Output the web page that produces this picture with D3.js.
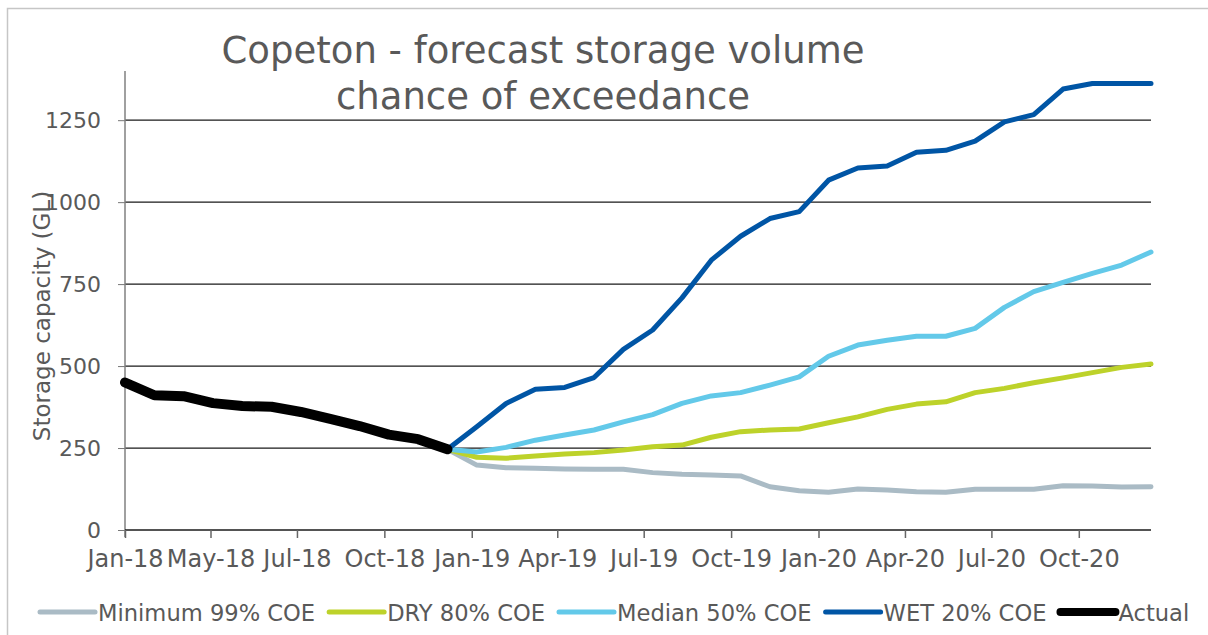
<!DOCTYPE html>
<html>
<head>
<meta charset="utf-8">
<script src="https://cdn.jsdelivr.net/npm/d3@7"></script>
<style>
    body { margin: 0; background: #fff; }
    svg { display: block; }
    text { font-family: "Century Gothic", "DejaVu Sans", sans-serif; fill: #595959; }
</style>
</head>
<body>
<div id="chart"></div>
<script>
// Copeton storage, GL. Forecasts start from the last actual reading (Dec-18).
const forecastStart = 11;
const actual = [450, 411, 408, 387, 378, 376, 360, 339, 317, 291, 277, 246];
const minimum99 = [246, 198, 190, 188, 186, 185, 185, 175, 170, 168, 165, 132, 120, 115, 125, 122, 117, 115, 124, 124, 124, 135, 134, 131, 132];
const dry80 = [246, 222, 219, 226, 232, 236, 244, 254, 259, 283, 300, 305, 308, 327, 345, 368, 384, 391, 419, 432, 449, 464, 480, 496, 506];
const median50 = [246, 238, 252, 274, 290, 305, 330, 352, 386, 409, 419, 442, 467, 530, 564, 579, 591, 591, 615, 679, 727, 755, 783, 808, 848];
const wet20 = [246, 315, 386, 429, 435, 465, 551, 610, 708, 823, 896, 950, 971, 1067, 1104, 1110, 1152, 1158, 1186, 1245, 1267, 1345, 1362, 1362, 1362];

const tickLabels = ["Jan-18", "May-18", "Jul-18", "Oct-18", "Jan-19", "Apr-19", "Jul-19", "Oct-19", "Jan-20", "Apr-20", "Jul-20", "Oct-20"];
const yTicks = [0, 250, 500, 750, 1000, 1250];

const series = [
    { name: "Minimum 99% COE", values: minimum99, offset: forecastStart, color: "#aabbc5", width: 5 },
    { name: "DRY 80% COE", values: dry80, offset: forecastStart, color: "#bdd22a", width: 5 },
    { name: "Median 50% COE", values: median50, offset: forecastStart, color: "#63c9e9", width: 5 },
    { name: "WET 20% COE", values: wet20, offset: forecastStart, color: "#0055a5", width: 5 },
    { name: "Actual", values: actual, offset: 0, color: "#000000", width: 10 },
];

const svgWidth = 1208;
const svgHeight = 635;
const margin = { top: 71, right: 57, bottom: 105, left: 125 };
const chartWidth = svgWidth - margin.left - margin.right;
const chartHeight = svgHeight - margin.top - margin.bottom;
const nPoints = forecastStart + wet20.length;
const fontStack = "\"Century Gothic\", \"DejaVu Sans\", sans-serif";

const svg = d3.select("#chart").append("svg")
    .attr("width", svgWidth)
    .attr("height", svgHeight);

// outer frame
svg.append("rect")
    .attr("x", 7.5).attr("y", 8.5)
    .attr("width", 1220).attr("height", 640)
    .attr("fill", "none")
    .attr("stroke", "#c6c6c6")
    .attr("stroke-width", 1.5);

const g = svg.append("g").attr("transform", `translate(${margin.left}, ${margin.top})`);

// points sit on a monthly index; the date axis carries the quarterly ticks
const xScale = d3.scaleLinear().domain([0, nPoints - 1]).range([0, chartWidth]);
const xTime = d3.scaleUtc()
    .domain([new Date(Date.UTC(2018, 0, 1)), new Date(Date.UTC(2020, 11, 16))])
    .range([0, chartWidth]);
const yScale = d3.scaleLinear().domain([0, 1400]).range([chartHeight, 0]);

// gridlines + y axis
const yAxis = g.append("g").attr("class", "y-axis")
    .call(d3.axisLeft(yScale).tickValues(yTicks).tickFormat(d3.format("d")).tickSize(7).tickPadding(17));
yAxis.select(".domain").remove();
yAxis.selectAll(".tick line").attr("stroke", "#777");
yAxis.selectAll(".tick text")
    .style("font-size", "22px")
    .style("font-family", fontStack)
    .attr("fill", "#595959");

g.append("g").attr("class", "grid")
    .selectAll("line")
    .data(yTicks.filter(d => d > 0))
    .join("line")
    .attr("x1", 0).attr("x2", chartWidth)
    .attr("y1", d => yScale(d)).attr("y2", d => yScale(d))
    .attr("stroke", "#1a1a1a")
    .attr("stroke-width", 1.3);

g.append("line")
    .attr("x1", 0).attr("x2", 0)
    .attr("y1", 0).attr("y2", chartHeight + 7)
    .attr("stroke", "#808080")
    .attr("stroke-width", 1.5);

// x axis
const quarterTicks = d3.utcMonth.every(3).range(xTime.domain()[0], xTime.domain()[1]).slice(0, tickLabels.length);
const xAxis = g.append("g").attr("class", "x-axis")
    .attr("transform", `translate(0, ${chartHeight})`)
    .call(d3.axisBottom(xTime).tickValues(quarterTicks).tickSize(8).tickPadding(12)
        .tickFormat((d, i) => tickLabels[i]));
xAxis.select(".domain").attr("stroke", "#1a1a1a").attr("stroke-width", 1.5).attr("d", `M0,0H${chartWidth}`);
xAxis.selectAll(".tick line").attr("stroke", "#666").attr("stroke-width", 1.5);
xAxis.selectAll(".tick text")
    .style("font-size", "24px")
    .style("font-family", fontStack)
    .attr("fill", "#595959");

// lines
const line = d3.line()
    .x(d => xScale(d.i))
    .y(d => yScale(d.v));

g.selectAll(".series")
    .data(series)
    .join("path")
    .attr("class", "series")
    .attr("fill", "none")
    .attr("stroke", d => d.color)
    .attr("stroke-width", d => d.width)
    .attr("stroke-linejoin", "round")
    .attr("stroke-linecap", "round")
    .attr("d", d => line(d.values.map((v, k) => ({ i: d.offset + k, v }))));

// title
const title = svg.append("text")
    .attr("x", 543)
    .attr("y", 63)
    .attr("text-anchor", "middle")
    .style("font-size", "37px");
title.append("tspan").attr("x", 543).text("Copeton - forecast storage volume");
title.append("tspan").attr("x", 543).attr("dy", 46).text("chance of exceedance");

// y label
svg.append("text")
    .attr("transform", `translate(50, ${316}) rotate(-90)`)
    .attr("text-anchor", "middle")
    .style("font-size", "23px")
    .text("Storage capacity (GL)");

// legend
const legend = svg.append("g").attr("class", "legend").attr("transform", "translate(40, 612)");
let lx = 0;
series.forEach(s => {
    const item = legend.append("g").attr("transform", `translate(${lx}, 0)`);
    item.append("line")
        .attr("x1", 0).attr("x2", 55)
        .attr("stroke", s.color)
        .attr("stroke-width", s.width === 10 ? 8 : 5)
        .attr("stroke-linecap", "round");
    const t = item.append("text")
        .attr("x", 58)
        .attr("y", 9)
        .style("font-size", "22.6px")
        .text(s.name);
    lx += 58 + t.node().getComputedTextLength() + 14;
});
</script>
</body>
</html>
